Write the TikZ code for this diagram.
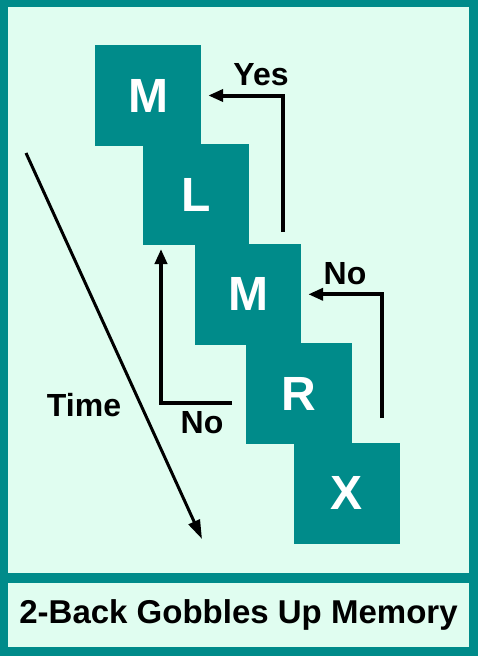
\documentclass[tikz,border=0pt]{standalone}
\usepackage{fontspec}
\setmainfont{Liberation Sans}
\usepackage{xcolor}
\usepackage{tikz}
\usetikzlibrary{arrows.meta,positioning}
\definecolor{diagteal}{HTML}{008B8A}
\definecolor{diagmint}{HTML}{E0FDF0}
\tikzset{
  >={Triangle[length=15pt,width=12pt]},
  letternode/.style={fill=diagteal,text=white,font=\fontsize{48}{48}\selectfont\bfseries,
                     minimum width=106pt,minimum height=101pt,inner sep=0pt},
  labelnode/.style={font=\fontsize{32}{32}\selectfont\bfseries,inner sep=0pt},
  titlenode/.style={fill=diagmint,font=\fontsize{33}{33}\selectfont\bfseries,
                    minimum width=461pt,minimum height=64pt,inner sep=0pt},
  flowarrow/.style={->,line width=4pt},
  timearrow/.style={-{Triangle[length=19pt,width=12pt]},line width=3pt},
}

\begin{document}
\begin{tikzpicture}[x=1pt,y=-1pt]
  \useasboundingbox (0,0) rectangle (478,656);
  % frame and panels
  \fill[diagteal] (0,0) rectangle (478,656);
  \fill[diagmint] (8,7) rectangle (469,573);
  \node[titlenode] (title) at (238.5,615) {2-Back Gobbles Up Memory};
  % letter stream
  \node[letternode] (m1) at (148,95.5) {M};
  \node[letternode,below=-2pt of m1,xshift=48pt] (l1) {L};
  \node[letternode,below=-2pt of l1,xshift=52pt] (m2) {M};
  \node[letternode,below=-2pt of m2,xshift=51pt] (r1) {R};
  \node[letternode,below=-2pt of r1,xshift=48pt] (x1) {X};
  % comparisons
  \coordinate (yesfoot) at (283,232);
  \coordinate (nofootr) at (382,418);
  \coordinate (nofootl) at (232,403);
  \coordinate (notipl) at (161,249);
  \draw[flowarrow] (yesfoot) |- ([xshift=7pt]m1.east);
  \draw[flowarrow] (nofootr) |- ([xshift=7pt]m2.east);
  \draw[flowarrow] (nofootl) -| (notipl);
  \node[labelnode] (yes) at (261,75) {Yes};
  \node[labelnode] (nor) at (345,274) {No};
  \node[labelnode] (nol) at (202,423) {No};
  % time axis
  \coordinate (timetop) at (26,153);
  \coordinate (timebot) at (202,539);
  \draw[timearrow] (timetop) -- (timebot);
  \node[labelnode] (time) at (84,405) {Time};
\end{tikzpicture}
\end{document}
